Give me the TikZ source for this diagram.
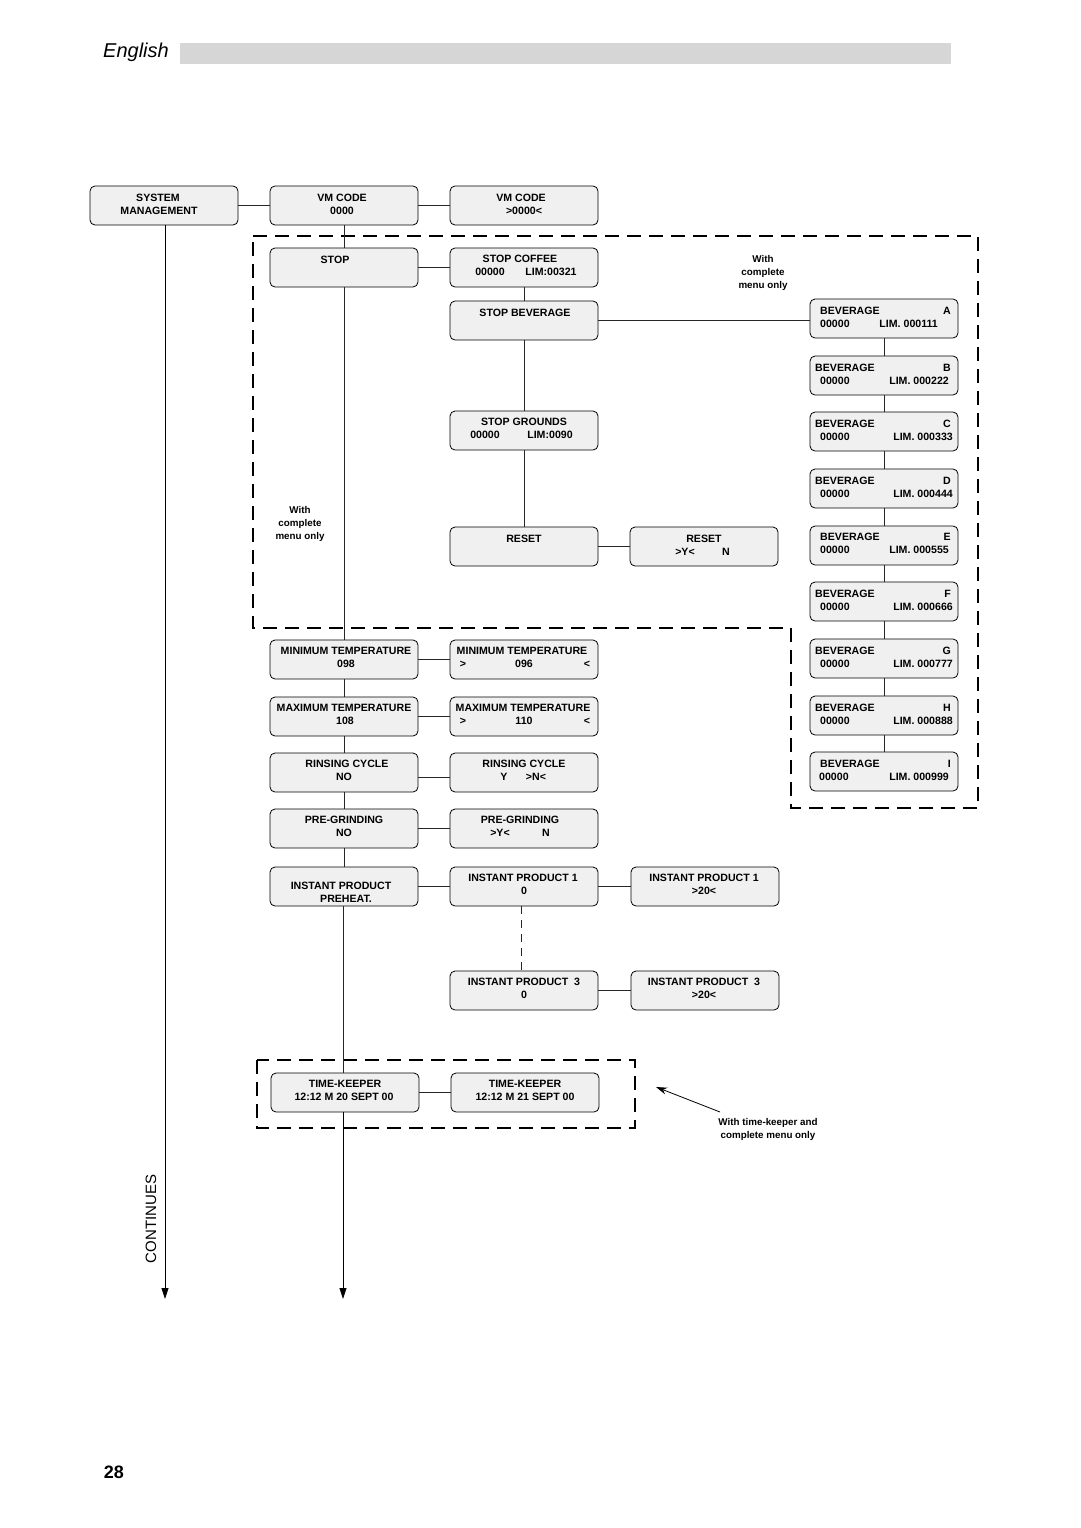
\documentclass[tikz,border=0pt]{standalone}
\usepackage{fontspec}
\setmainfont{Liberation Sans}
\usetikzlibrary{arrows.meta}
\tikzset{
  box/.style={draw, line width=0.8pt, rounded corners=5pt, fill=black!6, minimum width=148pt, minimum height=39pt, inner sep=0pt},
  tx/.style={inner sep=0pt, font=\fontsize{10.6}{12}\selectfont\bfseries},
  note/.style={inner sep=0pt, font=\fontsize{9.8}{13}\selectfont\bfseries, align=center},
  conn/.style={line width=0.8pt, draw=black!85},
  region/.style={line width=1.7pt, dash pattern=on 14pt off 8pt},
  flow/.style={line width=0.8pt, -{Triangle[length=11pt,width=7pt]}}
}
\begin{document}
\begin{tikzpicture}[x=1pt,y=-1pt]
\useasboundingbox (0,0) rectangle (1080,1528);

% header
\node[inner sep=0pt, font=\fontsize{20}{24}\selectfont\itshape] (hdr) at (136,52) {English};
\fill[black!16] (180,43) rectangle (951,64);
\node[inner sep=0pt, font=\fontsize{18}{20}\selectfont\bfseries] (pg) at (114,1472) {28};

% dashed regions
\draw[region] (253,236) -- (978,236) -- (978,808) -- (791,808) -- (791,628) -- (253,628) -- cycle;
\draw[region] (257,1060) rectangle (635,1128);

% boxes (center coordinates)
\node[box] (sm)  at (164,205.5) {};
\node[box] (vm1) at (344,205.5) {};
\node[box] (vm2) at (524,205.5) {};
\node[box] (stop) at (344,267.5) {};
\node[box] (sc)  at (524,267.5) {};
\node[box] (sb)  at (524,320.5) {};
\node[box] (sg)  at (524,430.5) {};
\node[box] (rs)  at (524,546.5) {};
\node[box] (rs2) at (704,546.5) {};
\foreach \n/\y in {a/318.5,b/375.5,c/431.5,d/488.5,e/545.5,f/601.5,g/658.5,h/715.5,i/771.5}
  \node[box] (bev\n) at (884,\y) {};
\node[box] (mint) at (344,659.5) {};
\node[box] (mint2) at (524,659.5) {};
\node[box] (maxt) at (344,716.5) {};
\node[box] (maxt2) at (524,716.5) {};
\node[box] (rin) at (344,772.5) {};
\node[box] (rin2) at (524,772.5) {};
\node[box] (pre) at (344,828.5) {};
\node[box] (pre2) at (524,828.5) {};
\node[box] (ipp) at (344,886.5) {};
\node[box] (ip1) at (524,886.5) {};
\node[box] (ip1r) at (705,886.5) {};
\node[box] (ip3) at (524,990.5) {};
\node[box] (ip3r) at (705,990.5) {};
\node[box] (tk1) at (345,1092.5) {};
\node[box] (tk2) at (525,1092.5) {};

\coordinate (endl) at (165,1299);
\coordinate (endm) at (343,1299);

% connectors
\draw[conn] (sm) -- (vm1);
\draw[conn] (vm1) -- (vm2);
\draw[conn] (vm1) -- (stop);
\draw[conn] (stop) -- (sc);
\draw[conn] (sc) -- (sb);
\draw[conn] (sb) -- (sg);
\draw[conn] (sg) -- (rs);
\draw[conn] (rs) -- (rs2);
\draw[conn] (sb.east) -- (sb.east -| beva.west);
\draw[conn] (beva) -- (bevb) -- (bevc) -- (bevd) -- (beve) -- (bevf) -- (bevg) -- (bevh) -- (bevi);
\draw[conn] (stop) -- (mint);
\draw[conn] (mint) -- (maxt);
\draw[conn] (maxt) -- (rin);
\draw[conn] (rin) -- (pre);
\draw[conn] (pre) -- (ipp);
\draw[conn] (mint) -- (mint2);
\draw[conn] (maxt) -- (maxt2);
\draw[conn] ([yshift=-5pt]rin.east) -- ([yshift=-5pt]rin2.west);
\draw[conn] (pre) -- (pre2);
\draw[conn] (ipp) -- (ip1);
\draw[conn] (ip1) -- (ip1r);
\draw[conn, dash pattern=on 8pt off 6pt] ([xshift=-3pt]ip1.south) -- ([xshift=-3pt]ip3.north);
\draw[conn] (ip3) -- (ip3r);
\draw[conn] (ipp.south -| endm) -- (tk1.north -| endm);
\draw[conn] (tk1) -- (tk2);
\draw[flow] (tk1.south -| endm) -- (endm);
\draw[flow] (sm.south -| endl) -- (endl);

% texts
\node[tx] at (158,198) {SYSTEM};
\node[tx] at (159,211) {MANAGEMENT};
\node[tx] at (342,198) {VM CODE};
\node[tx] at (342,211) {0000};
\node[tx] at (521,198) {VM CODE};
\node[tx] at (524,211) {>0000<};
\node[tx] at (335,260) {STOP};
\node[tx] at (520,259) {STOP COFFEE};
\node[tx] at (490,272) {00000};
\node[tx] at (551,272) {LIM:00321};
\node[tx] at (525,313) {STOP BEVERAGE};
\node[tx] at (524,422) {STOP GROUNDS};
\node[tx] at (485,435) {00000};
\node[tx] at (550,435) {LIM:0090};
\node[tx] at (524,539) {RESET};
\node[tx] at (704,539) {RESET};
\node[tx] at (685,552) {>Y<};
\node[tx] at (726,552) {N};

\foreach \y/\l/\bl/\lim/\ll/\lr in {311/A/820/000111/820/938, 368/B/815/000222/820/949, 424/C/815/000333/820/953, 481/D/815/000444/820/953, 537/E/820/000555/820/949, 594/F/815/000666/820/953, 651/G/815/000777/820/953, 708/H/815/000888/820/953, 764/I/820/000999/819/949}{
  \node[tx, anchor=west] at (\bl,\y) {BEVERAGE};
  \node[tx, anchor=east] at (951,\y) {\l};
  \node[tx, anchor=west] at (\ll,\y+13) {00000};
  \node[tx, anchor=east] at (\lr,\y+13) {LIM. \lim};
}

\node[tx] at (346,651) {MINIMUM TEMPERATURE};
\node[tx] at (346,664) {098};
\node[tx] at (522,651) {MINIMUM TEMPERATURE};
\node[tx] at (463,664) {>};
\node[tx] at (524,664) {096};
\node[tx] at (587,664) {<};
\node[tx] at (344,708) {MAXIMUM TEMPERATURE};
\node[tx] at (345,721) {108};
\node[tx] at (523,708) {MAXIMUM TEMPERATURE};
\node[tx] at (463,721) {>};
\node[tx] at (524,721) {110};
\node[tx] at (587,721) {<};
\node[tx] at (347,764) {RINSING CYCLE};
\node[tx] at (344,777) {NO};
\node[tx] at (524,764) {RINSING CYCLE};
\node[tx] at (504,777) {Y};
\node[tx] at (536,777) {>N<};
\node[tx] at (344,820) {PRE-GRINDING};
\node[tx] at (344,833) {NO};
\node[tx] at (520,820) {PRE-GRINDING};
\node[tx] at (500,833) {>Y<};
\node[tx] at (546,833) {N};
\node[tx] at (341,886) {INSTANT PRODUCT};
\node[tx] at (346,899) {PREHEAT.};
\node[tx] at (523,878) {INSTANT PRODUCT 1};
\node[tx] at (524,891) {0};
\node[tx] at (704,878) {INSTANT PRODUCT 1};
\node[tx] at (704,891) {>20<};
\node[tx] at (524,982) {INSTANT PRODUCT\ \ 3};
\node[tx] at (524,995) {0};
\node[tx] at (704,982) {INSTANT PRODUCT\ \ 3};
\node[tx] at (704,995) {>20<};
\node[tx] at (345,1084) {TIME-KEEPER};
\node[tx] at (344,1097) {12:12 M 20 SEPT 00};
\node[tx] at (525,1084) {TIME-KEEPER};
\node[tx] at (525,1097) {12:12 M 21 SEPT 00};

% notes
\node[note] (n1) at (763,273) {With\\complete\\menu only};
\node[note] (n2) at (300,524) {With\\complete\\menu only};
\node[note] (n3) at (768,1129) {With time-keeper and\\complete menu only};
\coordinate (n3tail) at (720,1112);
\coordinate (n3head) at (656,1087);
\draw[line width=0.8pt, -{Stealth[length=11pt,width=7pt]}] (n3tail) -- (n3head);

\node[inner sep=0pt, rotate=90, font=\fontsize{15}{18}\selectfont] (cont) at (151,1219) {CONTINUES};
\end{tikzpicture}
\end{document}
